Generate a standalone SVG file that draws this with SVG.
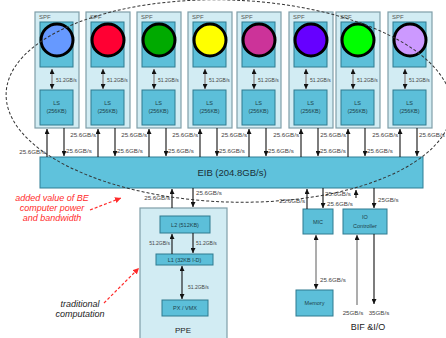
<svg xmlns="http://www.w3.org/2000/svg" width="446" height="338" viewBox="0 0 446 338">
<style>
text{font-family:"Liberation Sans",Arial,sans-serif}
.outer{fill:#d2ecf3;stroke:#7f9ea8;stroke-width:1.2}
.inner{fill:#5cbfd9;stroke:#2f7a8f;stroke-width:1}
.spc{stroke:#000;stroke-width:3}
.t-spf{font-size:6px;fill:#555}
.t-box{font-size:5.5px;fill:#1d3f4a;text-anchor:middle}
.t-bw{font-size:6.2px;fill:#444}
.t-bw5{font-size:5px;fill:#444}
.bus{stroke:#111;stroke-width:1.1;fill:none}
.gbus{stroke:#999;stroke-width:1.6;fill:none}
.red{font-size:9px;fill:#ff2a2a;font-style:italic;text-anchor:middle}
.blk{font-size:9px;fill:#222;font-style:italic;text-anchor:middle}
.end{text-anchor:end}
</style>
<defs>
<marker id="ah" markerUnits="userSpaceOnUse" markerWidth="5" markerHeight="5" refX="5" refY="2.5" orient="auto-start-reverse"><path d="M0,0 L5,2.5 L0,5 z" fill="#111"/></marker>
<marker id="rah" markerUnits="userSpaceOnUse" markerWidth="6" markerHeight="6" refX="6" refY="3" orient="auto"><path d="M0,0 L6,3 L0,6 z" fill="#ff2a2a"/></marker>
</defs>

<g id="spf1"><rect class="outer" x="35" y="12" width="44" height="116"/><rect class="inner" x="40" y="22" width="33" height="45"/><circle class="spc" cx="57" cy="40" r="16" fill="#6699ff"/><text class="t-spf" x="39" y="19">SPF</text><rect class="inner" x="40" y="90" width="33" height="35"/><text class="t-box" x="56.5" y="105">LS</text><text class="t-box" x="56.5" y="113">(256KB)</text></g>
<g id="spf2"><rect class="outer" x="86" y="12" width="44" height="116"/><rect class="inner" x="91" y="22" width="33" height="45"/><circle class="spc" cx="108" cy="40" r="16" fill="#ff0033"/><text class="t-spf" x="90" y="19">SPF</text><rect class="inner" x="91" y="90" width="33" height="35"/><text class="t-box" x="107.5" y="105">LS</text><text class="t-box" x="107.5" y="113">(256KB)</text></g>
<g id="spf3"><rect class="outer" x="137" y="12" width="44" height="116"/><rect class="inner" x="142" y="22" width="33" height="45"/><circle class="spc" cx="159" cy="40" r="16" fill="#00aa00"/><text class="t-spf" x="141" y="19">SPF</text><rect class="inner" x="142" y="90" width="33" height="35"/><text class="t-box" x="158.5" y="105">LS</text><text class="t-box" x="158.5" y="113">(256KB)</text></g>
<g id="spf4"><rect class="outer" x="188" y="12" width="44" height="116"/><rect class="inner" x="193" y="22" width="33" height="45"/><circle class="spc" cx="210" cy="40" r="16" fill="#ffff00"/><text class="t-spf" x="192" y="19">SPF</text><rect class="inner" x="193" y="90" width="33" height="35"/><text class="t-box" x="209.5" y="105">LS</text><text class="t-box" x="209.5" y="113">(256KB)</text></g>
<g id="spf5"><rect class="outer" x="237" y="12" width="44" height="116"/><rect class="inner" x="242" y="22" width="33" height="45"/><circle class="spc" cx="259" cy="40" r="16" fill="#cc3399"/><text class="t-spf" x="241" y="19">SPF</text><rect class="inner" x="242" y="90" width="33" height="35"/><text class="t-box" x="258.5" y="105">LS</text><text class="t-box" x="258.5" y="113">(256KB)</text></g>
<g id="spf6"><rect class="outer" x="289" y="12" width="44" height="116"/><rect class="inner" x="294" y="22" width="33" height="45"/><circle class="spc" cx="311" cy="40" r="16" fill="#6600ff"/><text class="t-spf" x="293" y="19">SPF</text><rect class="inner" x="294" y="90" width="33" height="35"/><text class="t-box" x="310.5" y="105">LS</text><text class="t-box" x="310.5" y="113">(256KB)</text></g>
<g id="spf7"><rect class="outer" x="336" y="12" width="44" height="116"/><rect class="inner" x="341" y="22" width="33" height="45"/><circle class="spc" cx="358" cy="40" r="16" fill="#00ff00"/><text class="t-spf" x="340" y="19">SPF</text><rect class="inner" x="341" y="90" width="33" height="35"/><text class="t-box" x="357.5" y="105">LS</text><text class="t-box" x="357.5" y="113">(256KB)</text></g>
<g id="spf8"><rect class="outer" x="388" y="12" width="44" height="116"/><rect class="inner" x="393" y="22" width="33" height="45"/><circle class="spc" cx="410" cy="40" r="16" fill="#cc99ff"/><text class="t-spf" x="392" y="19">SPF</text><rect class="inner" x="393" y="90" width="33" height="35"/><text class="t-box" x="409.5" y="105">LS</text><text class="t-box" x="409.5" y="113">(256KB)</text></g>

<g id="eib"><rect x="40" y="157" width="383" height="31" fill="#5fc2dc" stroke="#2f7f95" stroke-width="1"/><text x="232" y="176" font-size="9.5" fill="#1a2f36" text-anchor="middle">EIB (204.8GB/s)</text></g>

<g id="ppe"><rect class="outer" x="140" y="208" width="87" height="132"/>
<rect class="inner" x="160" y="216" width="50" height="17"/><text class="t-box" x="185" y="227" font-size="6">L2 (512KB)</text>
<rect class="inner" x="156" y="254" width="57" height="11"/><text class="t-box" x="184.5" y="262" font-size="6">L1 (32KB I-D)</text>
<rect class="inner" x="162" y="300" width="46" height="16"/><text class="t-box" x="185" y="310" font-size="6">PX / VMX</text>
<text x="183" y="333" font-size="8" fill="#222" text-anchor="middle">PPE</text></g>

<g id="mic"><rect class="inner" x="303" y="209" width="30" height="25"/><text class="t-box" x="318" y="224">MIC</text></g>
<g id="io"><rect class="inner" x="343" y="209" width="44" height="25"/><text class="t-box" x="365" y="219">IO</text><text class="t-box" x="365" y="228">Controller</text></g>
<g id="memory"><rect class="inner" x="296" y="290" width="37" height="26"/><text class="t-box" x="314.5" y="305">Memory</text></g>

<g id="connectors">
<!-- SPU-LS -->
<line class="gbus" x1="52" y1="69" x2="52" y2="89" marker-start="url(#ah)" marker-end="url(#ah)"/>
<line class="gbus" x1="103" y1="69" x2="103" y2="89" marker-start="url(#ah)" marker-end="url(#ah)"/>
<line class="gbus" x1="154" y1="69" x2="154" y2="89" marker-start="url(#ah)" marker-end="url(#ah)"/>
<line class="gbus" x1="205" y1="69" x2="205" y2="89" marker-start="url(#ah)" marker-end="url(#ah)"/>
<line class="gbus" x1="254" y1="69" x2="254" y2="89" marker-start="url(#ah)" marker-end="url(#ah)"/>
<line class="gbus" x1="306" y1="69" x2="306" y2="89" marker-start="url(#ah)" marker-end="url(#ah)"/>
<line class="gbus" x1="353" y1="69" x2="353" y2="89" marker-start="url(#ah)" marker-end="url(#ah)"/>
<line class="gbus" x1="405" y1="69" x2="405" y2="89" marker-start="url(#ah)" marker-end="url(#ah)"/>
<text class="t-bw5" x="56" y="82">51.2GB/s</text>
<text class="t-bw5" x="107" y="82">51.2GB/s</text>
<text class="t-bw5" x="158" y="82">51.2GB/s</text>
<text class="t-bw5" x="209" y="82">51.2GB/s</text>
<text class="t-bw5" x="258" y="82">51.2GB/s</text>
<text class="t-bw5" x="310" y="82">51.2GB/s</text>
<text class="t-bw5" x="357" y="82">51.2GB/s</text>
<text class="t-bw5" x="409" y="82">51.2GB/s</text>
<!-- SPF to EIB -->
<line class="bus" x1="47" y1="157" x2="47" y2="129" marker-end="url(#ah)"/>
<line class="bus" x1="64" y1="128" x2="64" y2="156" marker-end="url(#ah)"/>
<line class="bus" x1="98" y1="157" x2="98" y2="129" marker-end="url(#ah)"/>
<line class="bus" x1="115" y1="128" x2="115" y2="156" marker-end="url(#ah)"/>
<line class="bus" x1="149" y1="157" x2="149" y2="129" marker-end="url(#ah)"/>
<line class="bus" x1="166" y1="128" x2="166" y2="156" marker-end="url(#ah)"/>
<line class="bus" x1="200" y1="157" x2="200" y2="129" marker-end="url(#ah)"/>
<line class="bus" x1="217" y1="128" x2="217" y2="156" marker-end="url(#ah)"/>
<line class="bus" x1="249" y1="157" x2="249" y2="129" marker-end="url(#ah)"/>
<line class="bus" x1="266" y1="128" x2="266" y2="156" marker-end="url(#ah)"/>
<line class="bus" x1="301" y1="157" x2="301" y2="129" marker-end="url(#ah)"/>
<line class="bus" x1="318" y1="128" x2="318" y2="156" marker-end="url(#ah)"/>
<line class="bus" x1="348" y1="157" x2="348" y2="129" marker-end="url(#ah)"/>
<line class="bus" x1="365" y1="128" x2="365" y2="156" marker-end="url(#ah)"/>
<line class="bus" x1="400" y1="157" x2="400" y2="129" marker-end="url(#ah)"/>
<line class="bus" x1="417" y1="128" x2="417" y2="156" marker-end="url(#ah)"/>
<text class="t-bw end" x="45" y="154">25.6GB/s</text>
<text class="t-bw end" x="96" y="137">25.6GB/s</text>
<text class="t-bw end" x="147" y="137">25.6GB/s</text>
<text class="t-bw end" x="198" y="137">25.6GB/s</text>
<text class="t-bw end" x="247" y="137">25.6GB/s</text>
<text class="t-bw end" x="299" y="137">25.6GB/s</text>
<text class="t-bw end" x="346" y="137">25.6GB/s</text>
<text class="t-bw end" x="398" y="137">25.6GB/s</text>
<text class="t-bw" x="66" y="153">25.6GB/s</text>
<text class="t-bw" x="117" y="153">25.6GB/s</text>
<text class="t-bw" x="168" y="153">25.6GB/s</text>
<text class="t-bw" x="219" y="153">25.6GB/s</text>
<text class="t-bw" x="268" y="153">25.6GB/s</text>
<text class="t-bw" x="320" y="153">25.6GB/s</text>
<text class="t-bw" x="367" y="153">25.6GB/s</text>
<text class="t-bw" x="419" y="137">25.6GB/s</text>
<!-- EIB to PPE -->
<line class="bus" x1="172" y1="208" x2="172" y2="189" marker-end="url(#ah)"/>
<line class="bus" x1="193" y1="188" x2="193" y2="207" marker-end="url(#ah)"/>
<text class="t-bw end" x="170" y="200">25.6GB/s</text>
<text class="t-bw" x="196" y="195">25.6GB/s</text>
<!-- inside PPE -->
<line class="bus" x1="172" y1="254" x2="172" y2="234" marker-end="url(#ah)"/>
<line class="bus" x1="193" y1="233" x2="193" y2="253" marker-end="url(#ah)"/>
<text class="t-bw5 end" x="170" y="245">51.2GB/s</text>
<text class="t-bw5" x="196" y="245">51.2GB/s</text>
<line class="bus" x1="182" y1="266" x2="182" y2="299" marker-start="url(#ah)" marker-end="url(#ah)"/>
<text class="t-bw5" x="188" y="289">51.2GB/s</text>
<!-- EIB to MIC / IO -->
<line class="bus" x1="307" y1="209" x2="307" y2="189" marker-end="url(#ah)"/>
<line class="bus" x1="323" y1="188" x2="323" y2="208" marker-end="url(#ah)"/>
<text class="t-bw end" x="305" y="203">25.6GB/s</text>
<text class="t-bw" x="327" y="206">25.6GB/s</text>
<text class="t-bw" x="325" y="196">25.6GB/s</text>
<line class="bus" x1="356" y1="198" x2="356" y2="190" marker-end="url(#ah)"/>
<line class="bus" x1="374" y1="188" x2="374" y2="208" marker-end="url(#ah)"/>
<text class="t-bw" x="378" y="202">25GB/s</text>
<!-- MIC to memory -->
<line class="gbus" x1="316" y1="235" x2="316" y2="289" marker-start="url(#ah)" marker-end="url(#ah)"/>
<text class="t-bw" x="320" y="282">25.6GB/s</text>
<!-- IO external -->
<line class="gbus" x1="357" y1="305" x2="357" y2="235" marker-end="url(#ah)"/>
<line class="bus" x1="374" y1="234" x2="374" y2="304" stroke-width="1.4" marker-end="url(#ah)"/>
<text class="t-bw" x="353" y="315" text-anchor="middle">25GB/s</text>
<text class="t-bw" x="379" y="315" text-anchor="middle">35GB/s</text>
<text x="368" y="330" font-size="9" fill="#222" text-anchor="middle">BIF &amp;I/O</text>
<!-- dashed ellipse -->
<ellipse cx="229" cy="101" rx="223" ry="101" fill="none" stroke="#333" stroke-width="1" stroke-dasharray="3 2" transform="rotate(2 229 101)"/>
<!-- annotations -->
<line x1="90" y1="210" x2="121" y2="198" stroke="#ff2a2a" stroke-width="1.2" stroke-dasharray="3 2" marker-end="url(#rah)"/>
<line x1="104" y1="303" x2="139" y2="268" stroke="#ff2a2a" stroke-width="1.2" stroke-dasharray="3 2" marker-end="url(#rah)"/>
</g>
<g id="notes">
<text class="red" x="52" y="201">added value of BE</text>
<text class="red" x="52" y="211">computer power</text>
<text class="red" x="52" y="221">and bandwidth</text>
<text class="blk" x="80" y="307">traditional</text>
<text class="blk" x="80" y="317">computation</text>
</g>
</svg>
